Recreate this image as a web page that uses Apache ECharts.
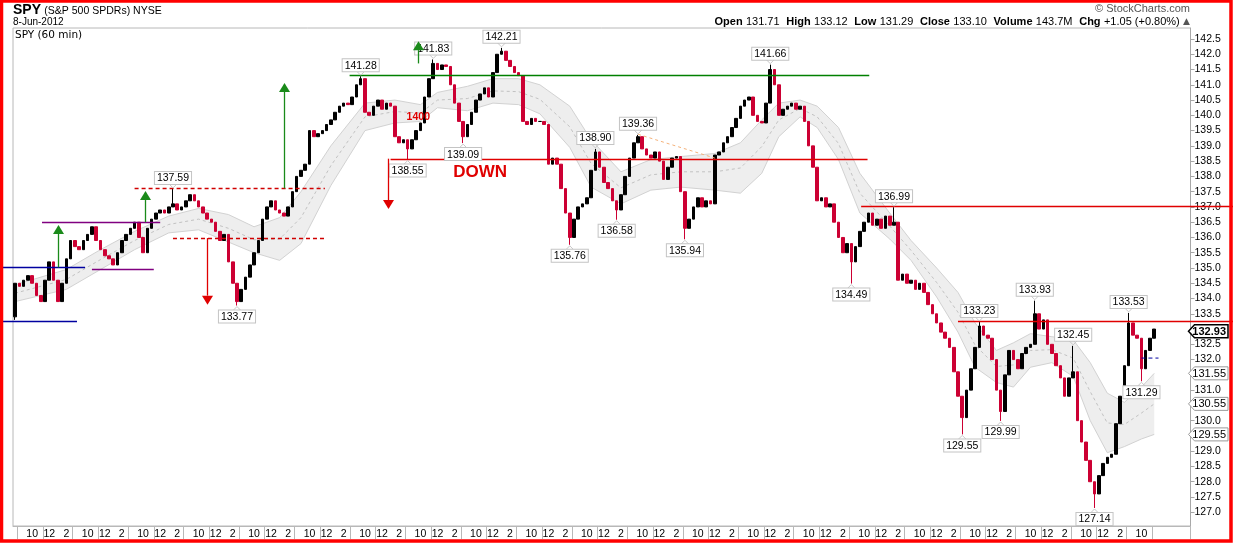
<!DOCTYPE html>
<html><head><meta charset="utf-8">
<script src="https://cdn.jsdelivr.net/npm/echarts@6/dist/echarts.min.js"></script>
<style>html,body{margin:0;padding:0;background:#fff}#c{width:1233px;height:543px}</style>
</head><body><div id="c"></div>
<script>
// ---------------- DATA ----------------
const firstOpen = 133.4;
const closes = [
134.5,134.4,134.6,134.75,134.5,134.1,133.9,134.6,135.2,134.6,
133.9,134.5,135.3,135.9,135.7,135.6,135.9,136.1,136.35,135.9,
135.6,135.4,135.3,135.1,135.5,135.9,136.1,136.3,136.5,136.0,
135.5,136.3,136.6,136.8,136.9,136.8,137.0,137.1,136.9,137.0,
137.2,137.4,137.2,137.0,136.8,136.6,136.5,136.2,135.9,136.1,
135.2,134.5,133.9,134.3,134.7,135.1,135.5,135.9,136.6,137.0,
137.2,136.9,136.8,136.7,137.0,137.5,138.0,138.2,138.4,139.5,
139.3,139.4,139.5,139.7,139.85,140.1,140.3,140.4,140.35,140.6,
141.0,141.2,140.1,140.0,140.3,140.5,140.2,140.4,140.3,139.3,
139.1,139.2,138.9,139.2,139.5,139.75,140.6,141.2,141.7,141.5,
141.65,141.6,141.0,140.4,139.8,139.3,139.7,140.1,140.5,140.7,
140.9,140.6,141.4,142.0,142.1,141.8,141.6,141.4,141.3,139.8,
139.7,139.9,139.8,139.8,139.7,138.4,138.6,138.4,137.6,136.8,
136.0,136.6,137.0,137.1,137.3,138.2,138.8,138.3,137.8,137.6,
137.2,136.9,137.4,138.0,138.6,139.1,139.3,138.9,138.7,138.6,
138.8,138.5,137.9,138.3,138.6,138.65,137.5,136.3,136.6,137.0,
137.3,137.0,137.2,137.1,138.7,138.8,139.1,139.3,139.6,139.9,
140.3,140.5,140.6,140.0,139.8,139.75,140.4,141.5,141.0,140.0,
140.2,140.3,140.4,140.2,140.3,139.8,139.0,138.3,137.2,137.3,
137.0,137.1,136.5,136.0,135.5,135.8,135.2,135.7,136.2,136.5,
136.8,136.4,136.6,136.3,136.7,136.4,136.5,134.6,134.8,134.5,
134.6,134.3,134.5,134.2,133.8,133.5,133.2,132.9,132.7,132.4,
131.6,130.8,130.1,131.0,131.7,132.4,133.1,132.8,132.7,132.0,
131.0,130.3,131.5,132.3,132.0,131.7,132.2,132.4,132.5,133.5,
133.0,133.3,132.5,132.2,131.8,131.4,130.8,131.4,131.6,130.0,
129.3,128.7,128.0,127.6,128.2,128.6,128.8,128.9,129.9,130.8,
131.8,133.2,132.8,132.7,131.7,132.3,132.7,133.0
];
const emptyBars = 8;
const hourLabels = ['10','12','2'];
const hourSlots = [1,5,9];
const barsPerDay = 13;
const firstSlot = 10;

// labelled extremes: [bar, price, text, side]
const peakLabels = [
 [37,137.59,'137.59','top'],[52,133.77,'133.77','bottom'],[81,141.28,'141.28','top'],
 [92,138.55,'138.55','bottom'],[98,141.83,'141.83','top'],[105,139.09,'139.09','bottom'],
 [114,142.21,'142.21','top'],[130,135.76,'135.76','bottom'],[136,138.90,'138.90','top'],
 [141,136.58,'136.58','bottom'],[146,139.36,'139.36','top'],[157,135.94,'135.94','bottom'],
 [177,141.66,'141.66','top'],[196,134.49,'134.49','bottom'],[206,136.99,'136.99','top'],
 [222,129.55,'129.55','bottom'],[226,133.23,'133.23','top'],[231,129.99,'129.99','bottom'],
 [239,133.93,'133.93','top'],[248,132.45,'132.45','top'],[253,127.14,'127.14','bottom'],
 [261,133.53,'133.53','top'],[264,131.29,'131.29','bottom']
];

// envelope band
const bandIdx = [0,12,20,28,36,43,50,56,62,67,74,82,89,95,99,106,112,118,123,130,135,142,149,156,164,170,175,179,184,188,193,198,205,210,216,221,225,230,234,238,243,248,252,256,260,264,267];
const bandUp = [134.45,134.95,135.6,136.2,136.7,136.95,136.75,136.35,136.65,137.5,139.0,140.4,140.5,140.35,140.75,140.95,141.2,141.2,141.0,140.3,139.2,138.15,138.55,138.65,138.75,139.1,139.85,140.4,140.5,140.3,139.6,138.1,136.8,135.9,135.0,134.2,133.2,132.3,132.55,132.85,132.75,132.65,131.9,130.9,130.6,131.1,131.55];
const bandLo = [133.9,134.3,134.95,135.6,136.15,136.25,135.85,135.5,135.25,135.8,137.7,139.5,139.75,139.8,140.25,140.15,140.4,140.35,140.05,138.95,137.65,137.1,137.55,137.65,137.55,137.45,138.1,139.3,139.95,139.6,138.55,136.8,135.95,135.25,134.05,132.9,131.75,131.25,131.1,131.75,131.9,131.45,130.0,128.95,129.15,129.4,129.55];

const yTicks = [];
for (let v = 127.0; v <= 142.5001; v += 0.5) yTicks.push(Math.round(v*10)/10);

// annotation lines: [fromBar, toBar, price, kind]
const hLines = [
 [-3,16.4,135.02,'navy'],[-3,14.5,133.26,'navy'],
 [6.3,34,136.5,'purple'],[18,32.5,134.97,'purple'],
 [28,72.6,137.61,'redDash'],[37,72.6,135.98,'redDash'],
 [78.4,200.2,141.32,'green'],[88,199.8,138.58,'red'],
 [198.3,286,137.03,'red'],[221,286,133.27,'red']
];
const trendLines = [ [146,139.38,164,138.6,'orange'], [264,132.05,268,132.05,'navyDash'] ];
// arrows: [bar, fromPrice, toPrice, kind]
const arrows = [[10,135.02,136.41,'up'],[30.4,136.5,137.52,'up'],[63,137.61,141.06,'up'],[94.4,141.7,142.43,'up'],[44.9,135.98,133.8,'down'],[87.3,138.58,136.93,'down']];
const notes = [[94.5,139.95,'1400','small'],[109,138.14,'DOWN','big']];
const rightMarkers = [[132.93,true],[131.55,false],[130.55,false],[129.55,false]];

// ---------------- STYLE ----------------
const kinds = {
 navy:{c:'#0000a0',d:null}, purple:{c:'#800080',d:null}, redDash:{c:'#d00000',d:[4,3]},
 green:{c:'#008000',d:null}, red:{c:'#e00000',d:null}, orange:{c:'#f5b27a',d:[3,3]},
 navyDash:{c:'#0000a0',d:[4,3]}, up:{c:'#1a8a1a'}, down:{c:'#e00000'}
};
const FONT = "'Liberation Sans',Arial,sans-serif";
const UP = '#000000', DOWN = '#cc0033';

const hiMap = {}, loMap = {};
peakLabels.forEach(p => { if (p[3]==='top') hiMap[p[0]] = p[1]; else loMap[p[0]] = p[1]; });
loMap[0] = 133.3;

const total = closes.length + emptyBars;
const cats = []; for (let i=0;i<total;i++) cats.push(String(i));
function labelFor(i){
  if (i >= closes.length) return '';
  const s = (i + firstSlot) % barsPerDay;
  const k = hourSlots.indexOf(s);
  return k >= 0 ? hourLabels[k] : '';
}
const candles = closes.map((c,i) => {
  const o = i ? closes[i-1] : firstOpen;
  let lo = Math.min(o,c), hi = Math.max(o,c);
  if (hiMap[i] != null) hi = Math.max(hi, hiMap[i]);
  if (loMap[i] != null) lo = Math.min(lo, loMap[i]);
  return [o, c, lo, hi];
});

const chart = echarts.init(document.getElementById('c'), null, {renderer:'canvas'});
chart.setOption({
  animation:false,
  backgroundColor:'#fff',
  grid:{left:13, right:42.5, top:28, bottom:17, show:true, borderColor:'#b8b8b8', borderWidth:1},
  xAxis:{type:'category', data:cats, boundaryGap:true,
    axisLine:{show:true, lineStyle:{color:'#b8b8b8'}},
    axisTick:{show:true, length:13, lineStyle:{color:'#b8b8b8'},
      interval:(idx)=>{ if (idx > closes.length) return false; const s=(idx+firstSlot)%barsPerDay; return s===4||s===11; }},
    axisLabel:{interval:0, margin:3, fontSize:10.5, color:'#000', fontFamily:FONT, formatter:(v,i)=>labelFor(i)},
    splitLine:{show:false}},
  yAxis:{type:'value', position:'right', min:126.55, max:142.86, scale:true,
    axisLine:{show:true, lineStyle:{color:'#a8a8a8'}},
    axisTick:{show:true, length:4, lineStyle:{color:'#a8a8a8'}, customValues:yTicks},
    axisLabel:{customValues:yTicks, margin:4, fontSize:10.5, color:'#000', fontFamily:FONT, formatter:v=>v.toFixed(1)},
    splitLine:{show:false}},
  series:[
    {type:'candlestick', data:candles, z:3, barWidth:'72%',
      itemStyle:{color:UP, color0:DOWN, borderColor:UP, borderColor0:DOWN, borderWidth:1}},
    {type:'custom', coordinateSystem:'cartesian2d', data:[[0,bandUp[0]]], z:1, silent:true,
      renderItem:(params, api)=>{
        const up = bandIdx.map((ix,k)=>api.coord([ix, bandUp[k]]));
        const lo = bandIdx.map((ix,k)=>api.coord([ix, bandLo[k]]));
        const mid = bandIdx.map((ix,k)=>api.coord([ix, (bandUp[k]+bandLo[k])/2]));
        return {type:'group', children:[
          {type:'polygon', shape:{points:up.concat(lo.slice().reverse())}, style:{fill:'#eeeeee'}},
          {type:'polyline', shape:{points:up}, style:{stroke:'#d2d2d2', lineWidth:1, fill:null}},
          {type:'polyline', shape:{points:lo}, style:{stroke:'#d2d2d2', lineWidth:1, fill:null}},
          {type:'polyline', shape:{points:mid}, style:{stroke:'#c2c2c2', lineWidth:1, lineDash:[3,3], fill:null}}
        ]};
      }}
  ]
});

// ---------------- ANNOTATIONS (positioned through the chart's scales) ----------------
function P(i, v){
  const a = Math.floor(i), f = i - a;
  const p0 = chart.convertToPixel({seriesIndex:0}, [a, v]);
  if (!f) return p0;
  const p1 = chart.convertToPixel({seriesIndex:0}, [a+1, v]);
  return [p0[0] + (p1[0]-p0[0])*f, p0[1]];
}
const g = [];
hLines.forEach(([a,b,v,k])=>{
  const p=P(a,v), q=P(b,v), s=kinds[k];
  g.push({type:'line', z:20, shape:{x1:p[0],y1:Math.round(p[1])+0.5,x2:q[0],y2:Math.round(p[1])+0.5}, style:{stroke:s.c, lineWidth:1.3, lineDash:s.d}});
});
trendLines.forEach(([a,v1,b,v2,k])=>{
  const p=P(a,v1), q=P(b,v2), s=kinds[k];
  g.push({type:'line', z:20, shape:{x1:p[0],y1:p[1],x2:q[0],y2:q[1]}, style:{stroke:s.c, lineWidth:1, lineDash:s.d}});
});
peakLabels.forEach(([i,v,t,side])=>{
  const p=P(i,v), top = side==='top';
  const edge = top ? p[1]-5 : p[1]+5;
  g.push({type:'polyline', z:22, shape:{points:[[p[0]-4,edge],[p[0],p[1]-(top?1:-1)],[p[0]+4,edge]]}, style:{stroke:'#c8c8c8', lineWidth:1, fill:null}});
  g.push({type:'text', z:23, x:p[0], y:edge, style:{text:t, align:'center', verticalAlign: top?'bottom':'top',
    font:"10.5px "+FONT, fill:'#000', backgroundColor:'#fff', borderColor:'#c4c4c4', borderWidth:1, padding:[1,2,0,2]}});
});
arrows.forEach(([i,v0,v1,k])=>{
  const p=P(i,v0), q=P(i,v1), c=kinds[k].c, dir = q[1] < p[1] ? -1 : 1;
  const hh = 9, hw = 5.5;
  const x = Math.round(p[0])+0.5;
  g.push({type:'line', z:25, shape:{x1:x,y1:p[1],x2:x,y2:q[1]-dir*hh}, style:{stroke:c, lineWidth:1.3}});
  g.push({type:'polygon', z:25, shape:{points:[[x,q[1]],[x-hw,q[1]-dir*hh],[x+hw,q[1]-dir*hh]]}, style:{fill:c}});
});
notes.forEach(([i,v,t,k])=>{
  const p=P(i,v);
  g.push({type:'text', z:24, x:p[0], y:p[1], style:{text:t, align:'center', verticalAlign:'middle',
    font: k==='big' ? "bold 17px "+FONT : "bold 10.5px "+FONT, fill:'#e00000'}});
});
const gx = P(total-0.5, 130)[0];
rightMarkers.forEach(([v,bold])=>{
  const y = P(0,v)[1];
  g.push({type:'polygon', z:30, shape:{points:[[gx-2,y],[gx+4,y-6.5],[1228,y-6.5],[1228,y+6.5],[gx+4,y+6.5]]},
    style:{fill:'#fff', stroke: bold?'#000':'#9a9a9a', lineWidth: bold?1.5:1}});
  g.push({type:'text', z:31, x:1226, y:y+0.5, style:{text:v.toFixed(2), verticalAlign:'middle', align:'right',
    font:(bold?'bold ':'')+"11px "+FONT, fill:'#000'}});
});
// header
g.push({type:'text', z:40, left:13, top:3, style:{text:'{b|SPY} {n|(S&P 500 SPDRs) NYSE}', rich:{
  b:{font:"bold 14px "+FONT, fill:'#000'},
  n:{font:"10.5px "+FONT, fill:'#000', padding:[2,0,0,0]}}}});
g.push({type:'text', z:40, left:13, top:17, style:{text:'8-Jun-2012', font:"10px "+FONT, fill:'#000'}});
g.push({type:'text', z:40, left:15, top:30, style:{text:'SPY (60 min)', font:"10.5px 'DejaVu Sans',sans-serif", fill:'#000'}});
g.push({type:'text', z:40, right:43, top:3, style:{text:'© StockCharts.com', font:"11px "+FONT, fill:'#555'}});
g.push({type:'text', z:40, right:43, top:16, style:{
  text:'{b|Open} {n|131.71}  {b|High} {n|133.12}  {b|Low} {n|131.29}  {b|Close} {n|133.10}  {b|Volume} {n|143.7M}  {b|Chg} {n|+1.05 (+0.80%)} {t|▲}',
  rich:{b:{font:"bold 11px "+FONT, fill:'#000'},
        n:{font:"11px "+FONT, fill:'#000'},
        t:{font:"9px 'DejaVu Sans',sans-serif", fill:'#555'}}}});
// outer red frame
g.push({type:'rect', z:50, shape:{x:1.5,y:1,width:1229.5,height:540}, style:{fill:null, stroke:'#ff0000', lineWidth:3.5}});
chart.setOption({graphic:g});
</script>
</body></html>
